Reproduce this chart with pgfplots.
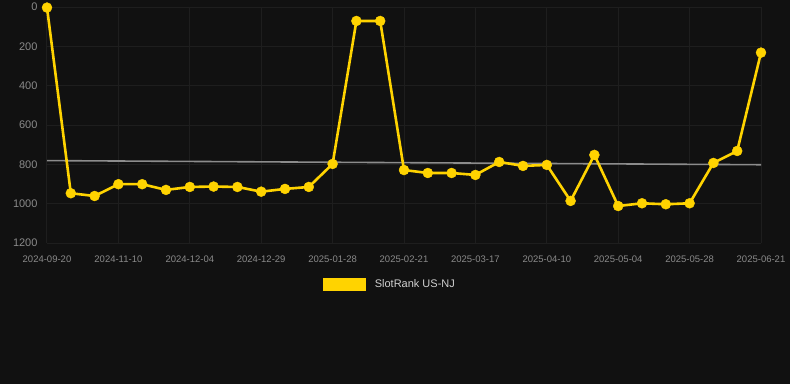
\documentclass[border=0pt]{standalone}
\usepackage{fontspec}
\setmainfont{Liberation Sans}
\usepackage{pgfplots}
\pgfplotsset{compat=1.18}
\definecolor{bg}{HTML}{111111}
\definecolor{gold}{HTML}{FFD300}
\definecolor{gridc}{HTML}{1E1E1E}
\definecolor{tickc}{HTML}{8A8A8A}
\definecolor{trendc}{HTML}{8C8C8C}
\definecolor{legc}{HTML}{D0D0D0}
\begin{document}
\begin{tikzpicture}
\useasboundingbox (0,0) rectangle (790bp,384bp);
\fill[bg] (0,0) rectangle (790bp,384bp);
\begin{axis}[
  at={(47bp,141bp)}, anchor=south west,
  scale only axis, width=714bp, height=236bp,
  xmin=0, xmax=30, ymin=0, ymax=1200,
  y dir=reverse, clip=false,
  axis line style={draw=none},
  grid=major, grid style={gridc, line width=1bp},
  tick style={draw=none},
  xtick={0,3,...,30},
  xticklabels={2024-09-20,2024-11-10,2024-12-04,2024-12-29,2025-01-28,2025-02-21,2025-03-17,2025-04-10,2025-05-04,2025-05-28,2025-06-21},
  ytick={0,200,...,1200},
  /pgf/number format/assume math mode=true,
  /pgf/number format/1000 sep={},
  yticklabel style={font=\fontsize{11bp}{13bp}\selectfont, text=tickc, xshift=-6bp},
  xticklabel style={font=\fontsize{9.5bp}{11bp}\selectfont, text=tickc, yshift=-9bp},
  legend style={at={(0.3866,-0.1758)}, anchor=west, draw=none, fill=none,
    text=legc, font=\fontsize{11bp}{13bp}\selectfont, inner sep=0pt},
  legend image code/.code={\fill[gold] (0bp,-5.5bp) rectangle (40bp,5.5bp); \path (47bp,0bp);},
]
\addplot[trendc, line width=1.6bp, no marks, forget plot] coordinates {(0,781) (30,802)};
\addplot[gold, line width=2.6bp, mark=*, mark size=5bp, mark options={fill=gold, draw=gold, line width=0.4bp}] coordinates {
(0,3) (1,947) (2,961) (3,901) (4,901) (5,930) (6,915) (7,913) (8,915) (9,939)
(10,925) (11,915) (12,798) (13,71) (14,71) (15,829) (16,844) (17,844) (18,854) (19,788)
(20,808) (21,803) (22,986) (23,752) (24,1012) (25,998) (26,1003) (27,998) (28,793) (29,732)
(30,232)};
\addlegendentry{SlotRank US-NJ}
\end{axis}
\end{tikzpicture}
\end{document}
